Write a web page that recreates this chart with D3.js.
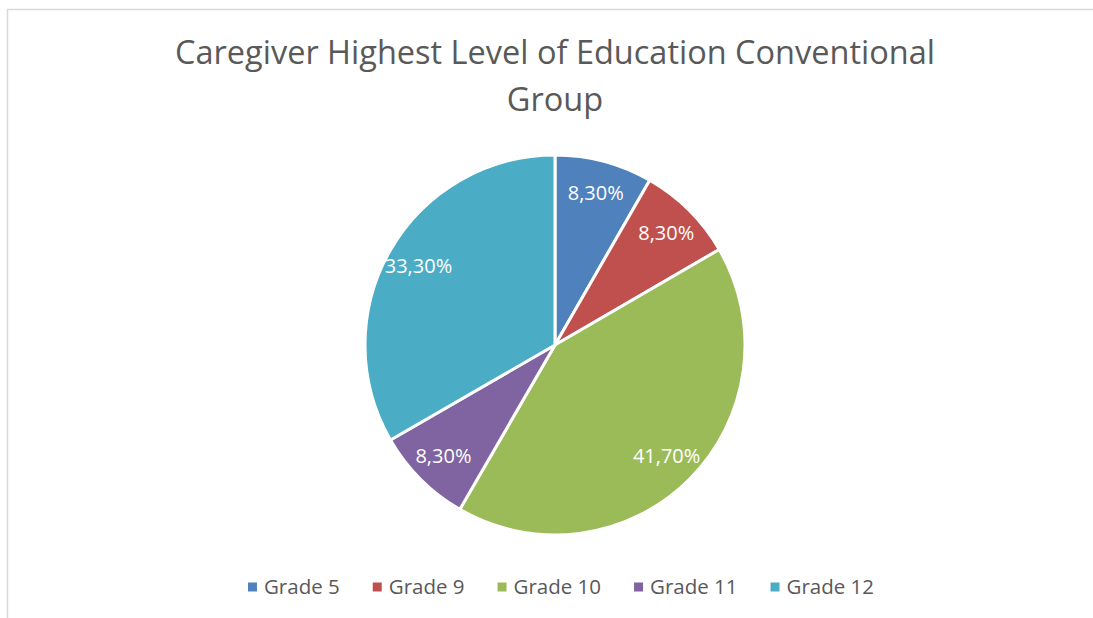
<!DOCTYPE html>
<html lang="en">

<head>
    <meta charset="UTF-8">
    <script src="https://d3js.org/d3.v7.min.js" charset="utf-8"></script>
    <title>Caregiver Highest Level of Education</title>
    <style>
        body { margin: 0; background: #fff; }
        text { font-family: "Open Sans", "Liberation Sans", sans-serif; }
    </style>
</head>

<body>
    <div id="chart"></div>

    <script>
        // data
        const categories = ["Grade 5", "Grade 9", "Grade 10", "Grade 11", "Grade 12"];
        const values = [8.3, 8.3, 41.7, 8.3, 33.3];
        const labels = ["8,30%", "8,30%", "41,70%", "8,30%", "33,30%"];
        const colors = ["#4F81BD", "#C0504D", "#9BBB59", "#8064A2", "#4BACC6"];
        const titleLines = ["Caregiver Highest Level of Education Conventional", "Group"];

        const width = 1093, height = 618;
        const cx = 555, cy = 345, radius = 190;

        const svg = d3.select('#chart').append("svg")
            .attr("width", width)
            .attr("height", height);

        // chart border (top + left visible)
        svg.append("rect")
            .attr("x", 7.5).attr("y", 9.5)
            .attr("width", width).attr("height", height)
            .attr("fill", "none")
            .attr("stroke", "#d9d9d9")
            .attr("stroke-width", 1.5);

        svg.selectAll(".title")
            .data(titleLines)
            .enter()
            .append("text")
            .attr("class", "title")
            .attr("x", cx)
            .attr("y", (d, i) => 64 + i * 47)
            .attr("text-anchor", "middle")
            .attr("fill", "#595959")
            .style("font-size", "32.5px")
            .text(d => d);

        const color = d3.scaleOrdinal().domain(categories).range(colors);

        const pie = d3.pie().sort(null).value(d => d.value);
        const data = categories.map((c, i) => ({ cat: c, value: values[i], label: labels[i] }));
        const arcs = pie(data);

        const arc = d3.arc().innerRadius(0).outerRadius(radius);
        const labelArc = d3.arc().innerRadius(radius * 0.83).outerRadius(radius * 0.83);

        const g = svg.append("g").attr("transform", `translate(${cx},${cy})`);

        g.selectAll("path")
            .data(arcs)
            .enter()
            .append("path")
            .attr("d", arc)
            .attr("fill", d => color(d.data.cat))
            .attr("stroke", "#fff")
            .attr("stroke-width", 3)
            .attr("stroke-linejoin", "round");

        g.selectAll(".lbl")
            .data(arcs)
            .enter()
            .append("text")
            .attr("class", "lbl")
            .attr("transform", d => `translate(${labelArc.centroid(d)})`)
            .attr("text-anchor", "middle")
            .attr("dy", "0.35em")
            .attr("fill", "#fff")
            .style("font-size", "20px")
            .text(d => d.data.label);

        // legend
        const legend = svg.append("g");
        const items = legend.selectAll("g")
            .data(categories)
            .enter()
            .append("g");

        items.append("rect")
            .attr("width", 9).attr("height", 9)
            .attr("y", -4.5)
            .attr("fill", d => color(d));

        items.append("text")
            .attr("x", 16)
            .attr("dy", "0.35em")
            .attr("fill", "#595959")
            .style("font-size", "20.5px")
            .text(d => d);

        let xPos = 0;
        items.each(function () {
            const w = 16 + d3.select(this).select("text").node().getComputedTextLength();
            d3.select(this).attr("transform", `translate(${xPos},0)`);
            xPos += w + 33;
        });
        const total = xPos - 33;
        legend.attr("transform", `translate(${cx - total / 2 + 6},587)`);
    </script>
</body>

</html>
